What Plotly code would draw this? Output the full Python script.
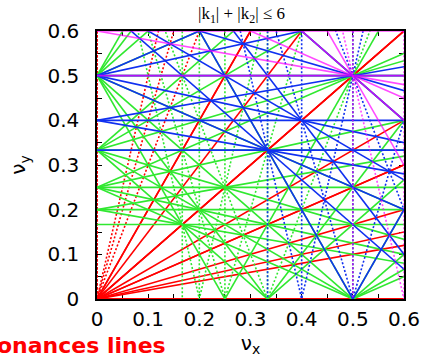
import numpy as np
import plotly.graph_objects as go

# ---- data ----
MAX_ORDER = 6                      # |k1| + |k2| <= 6
NU_MIN, NU_MAX = 0.0, 0.6          # tune range in both planes
TICK_VALS = [0, 0.1, 0.2, 0.3, 0.4, 0.5, 0.6]
TICK_TEXT = ["0", "0.1", "0.2", "0.3", "0.4", "0.5", "0.6"]
P_COLORS = {0: "#ff0000", 1: "#30e830", 2: "#1030f0", 3: "#ff00ff"}
P_OPACITY = {0: 1.0, 1: 1.0, 2: 1.0, 3: 0.7}
TITLE = "|k<sub>1</sub>| + |k<sub>2</sub>| ≤ 6"
LABEL = "Resonances lines"

# ---- enumerate resonance lines k1*nux + k2*nuy = p ----
lines = []
for k1 in range(-MAX_ORDER, MAX_ORDER + 1):
    for k2 in range(0, MAX_ORDER + 1):
        n = abs(k1) + abs(k2)
        if n == 0 or n > MAX_ORDER:
            continue
        if k2 == 0 and k1 < 0:
            continue
        corners = [k1 * a + k2 * b for a in (NU_MIN, NU_MAX) for b in (NU_MIN, NU_MAX)]
        lo, hi = min(corners), max(corners)
        for p in range(int(np.floor(lo)), int(np.ceil(hi)) + 1):
            if p < lo - 1e-9 or p > hi + 1e-9:
                continue
            dotted = (k2 == 0) or (abs(k1) > 2 * abs(k2))
            lines.append((abs(p), k1, k2, p, dotted))

lines.sort(key=lambda t: t[0])

fig = go.Figure()
for pa in sorted(P_COLORS):
    for dotted in (False, True):
        xs, ys = [], []
        for (pp, k1, k2, p, d) in lines:
            if pp != pa or d != dotted:
                continue
            if k2 == 0:
                x0 = p / k1
                xs += [x0, x0, None]
                ys += [NU_MIN - 0.05, NU_MAX + 0.05, None]
            else:
                xa, xb = NU_MIN - 0.05, NU_MAX + 0.05
                xs += [xa, xb, None]
                ys += [(p - k1 * xa) / k2, (p - k1 * xb) / k2, None]
        if not xs:
            continue
        fig.add_trace(go.Scatter(
            x=xs, y=ys, mode="lines", opacity=P_OPACITY[pa],
            line=dict(color=P_COLORS[pa], width=1.6,
                      dash="2px,2px" if dotted else "solid"),
            hoverinfo="skip", showlegend=False))

axis_common = dict(
    range=[NU_MIN, NU_MAX], tickvals=TICK_VALS, ticktext=TICK_TEXT,
    ticks="inside", ticklen=5, tickwidth=1, tickcolor="black",
    minor=dict(dtick=0.05, ticks="inside", ticklen=5, tickcolor="black"),
    showline=True, linecolor="black", linewidth=1.5, mirror="ticks",
    showgrid=False, zeroline=False, automargin=False,
    tickfont=dict(family="DejaVu Sans", size=20, color="black"),
    layer="below traces",
)

fig.update_xaxes(**axis_common,
                 title=dict(text="ν<sub>x</sub>", standoff=2,
                            font=dict(family="DejaVu Sans", size=20, color="black")),
                 ticklabelstandoff=1)
fig.update_yaxes(**axis_common,
                 title=dict(text="ν<sub>y</sub>", standoff=16,
                            font=dict(family="DejaVu Sans", size=20, color="black")),
                 ticklabelstandoff=12)

fig.add_annotation(text=TITLE, xref="paper", yref="paper", x=0.47, y=1.06,
                   xanchor="center", yanchor="middle", showarrow=False,
                   font=dict(family="Liberation Serif", size=17, color="black"))
fig.add_annotation(text="<b>" + LABEL + "</b>", xref="paper", yref="paper",
                   x=0.2313, y=-0.172, xanchor="right", yanchor="middle",
                   showarrow=False,
                   font=dict(family="DejaVu Sans", size=22, color="#ff0000"))

fig.update_layout(width=424, height=359, autosize=False,
                  margin=dict(l=97, r=20, t=31, b=60),
                  paper_bgcolor="white", plot_bgcolor="white")

fig.write_html("out.html")
